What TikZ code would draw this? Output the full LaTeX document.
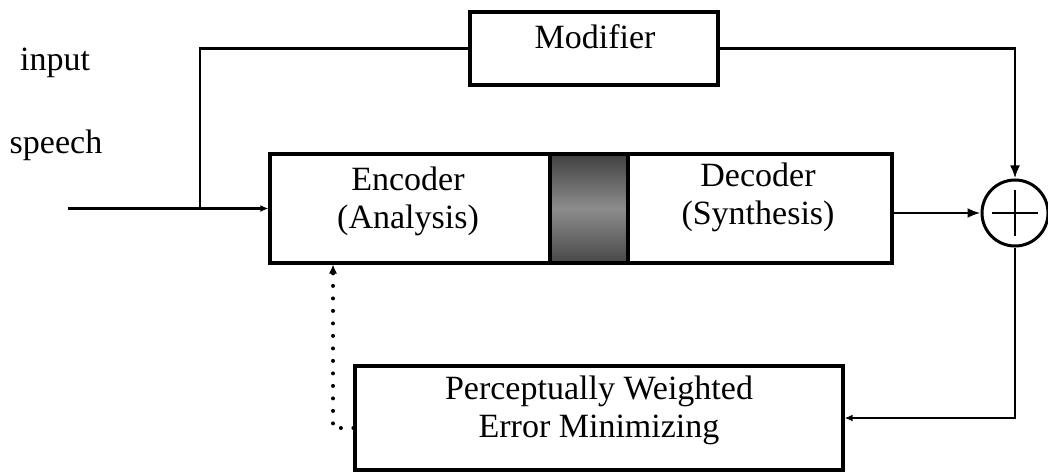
\documentclass[tikz,border=0pt]{standalone}
\usepackage{fontspec}
\setmainfont{Liberation Serif}
\usetikzlibrary{arrows.meta,calc}
\begin{document}
\begin{tikzpicture}[x=1pt,y=-1pt,
  blk/.style={draw, rectangle, line width=3.2pt, inner sep=0pt, fill=white},
  lbl/.style={font=\fontsize{34}{38}\selectfont, align=center, inner sep=0pt},
  wire/.style={line width=2.8pt},
  tip/.style={-{Latex[length=13pt,width=10pt]}},
  smalltip/.style={-{Latex[length=8pt,width=7pt]}},
  dotline/.style={line width=4pt, line cap=round, dash pattern=on 0pt off 12.5pt}]

\useasboundingbox (0,0) rectangle (1048,473);

% blocks
\node[blk, minimum width=248pt, minimum height=73pt] (mod) at (594,48.5) {};
\node[blk, minimum width=280pt, minimum height=109pt] (enc) at (410,208.5) {};
\node[blk, minimum width=264pt, minimum height=109pt] (dec) at (760,208.5) {};
\node[blk, line width=4pt, minimum width=78pt, minimum height=109pt,
      top color=black!75, bottom color=black!72, middle color=black!45] (chan) at (589,208.5) {};
\node[draw, circle, line width=3pt, minimum size=66pt, inner sep=0pt] (sum) at (1015,213) {};
\node[blk, minimum width=488pt, minimum height=104pt] (pwe) at (599,418) {};

% labels
\node[lbl] (intxt) at (55,63) {input};
\node[lbl] (sptxt) at (56,145) {speech};
\node[lbl] (modtxt) at (595,37) {Modifier};
\node[lbl] (enctxt) at (408,201) {Encoder\\(Analysis)};
\node[lbl] (dectxt) at (758,197) {Decoder\\(Synthesis)};
\node[lbl] (pwetxt) at (599,410) {Perceptually Weighted\\Error Minimizing};

% summing junction sign
\draw[line width=2.8pt] ($(sum.center)+(-23,0)$) -- ($(sum.center)+(23,0)$);
\draw[line width=2.8pt] ($(sum.center)+(0,-23)$) -- ($(sum.center)+(0,23)$);

% signal paths
\coordinate (src) at (68,208.5);
\coordinate (jn) at (200,208.5);
\coordinate (fb) at (333,428);

\draw[wire, smalltip] (src) -- (enc.west);
\draw[wire] (jn) |- (mod.west);
\draw[wire, tip] (mod.east) -| (sum.north);
\draw[wire, tip] (dec.east |- sum.west) -- (sum.west);
\draw[wire, smalltip] (sum.south) |- (pwe.east);
\draw[dotline] ($(pwe.west)+(0,10)$) -- (fb) -- (fb |- enc.south);
\draw[line width=1pt, -{Latex[length=9pt,width=8pt]}] ($(fb |- enc.south)+(0,7)$) -- (fb |- enc.south);
\end{tikzpicture}
\end{document}
